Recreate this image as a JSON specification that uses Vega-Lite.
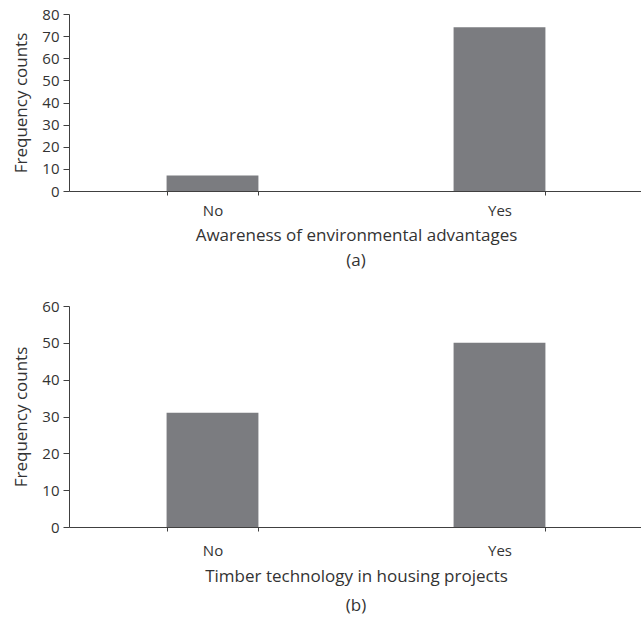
{
  "$schema": "https://vega.github.io/schema/vega-lite/v6.json",
  "padding": {"left": 12, "top": 7, "right": 0, "bottom": 6},
  "spacing": 30,
  "config": {
    "view": {"stroke": null},
    "font": "Open Sans",
    "axis": {
      "labelFont": "Open Sans", "titleFont": "Open Sans",
      "labelFontSize": 15, "titleFontSize": 17, "titleFontWeight": "normal",
      "labelColor": "#333333", "titleColor": "#333333",
      "domainColor": "#404040", "tickColor": "#404040",
      "grid": false
    },
    "title": {"font": "Open Sans", "fontSize": 17, "fontWeight": "normal", "color": "#333333"}
  },
  "vconcat": [
    {
      "width": 574, "height": 177,
      "data": {"values": [{"answer": "No", "count": 7}, {"answer": "Yes", "count": 74}]},
      "title": {"text": "(a)", "orient": "bottom", "offset": 10, "anchor": "middle"},
      "mark": {"type": "bar", "color": "#7b7c80"},
      "encoding": {
        "x": {"field": "answer", "type": "nominal", "sort": ["No", "Yes"],
          "scale": {"paddingInner": 0.68, "paddingOuter": 0.34},
          "axis": {"title": "Awareness of environmental advantages", "labelAngle": 0, "tickBand": "extent", "tickSize": 4, "labelPadding": 8, "titlePadding": 9}},
        "y": {"field": "count", "type": "quantitative",
          "scale": {"domain": [0, 80]},
          "axis": {"title": "Frequency counts", "values": [0,10,20,30,40,50,60,70,80], "tickSize": 6, "labelPadding": 4, "titlePadding": 11}}
      }
    },
    {
      "width": 574, "height": 221,
      "data": {"values": [{"answer": "No", "count": 31}, {"answer": "Yes", "count": 50}]},
      "title": {"text": "(b)", "orient": "bottom", "offset": 14, "anchor": "middle"},
      "mark": {"type": "bar", "color": "#7b7c80"},
      "encoding": {
        "x": {"field": "answer", "type": "nominal", "sort": ["No", "Yes"],
          "scale": {"paddingInner": 0.68, "paddingOuter": 0.34},
          "axis": {"title": "Timber technology in housing projects", "labelAngle": 0, "tickBand": "extent", "tickSize": 4, "labelPadding": 12, "titlePadding": 10}},
        "y": {"field": "count", "type": "quantitative",
          "scale": {"domain": [0, 60]},
          "axis": {"title": "Frequency counts", "values": [0,10,20,30,40,50,60], "tickSize": 6, "labelPadding": 4, "titlePadding": 11}}
      }
    }
  ]
}
